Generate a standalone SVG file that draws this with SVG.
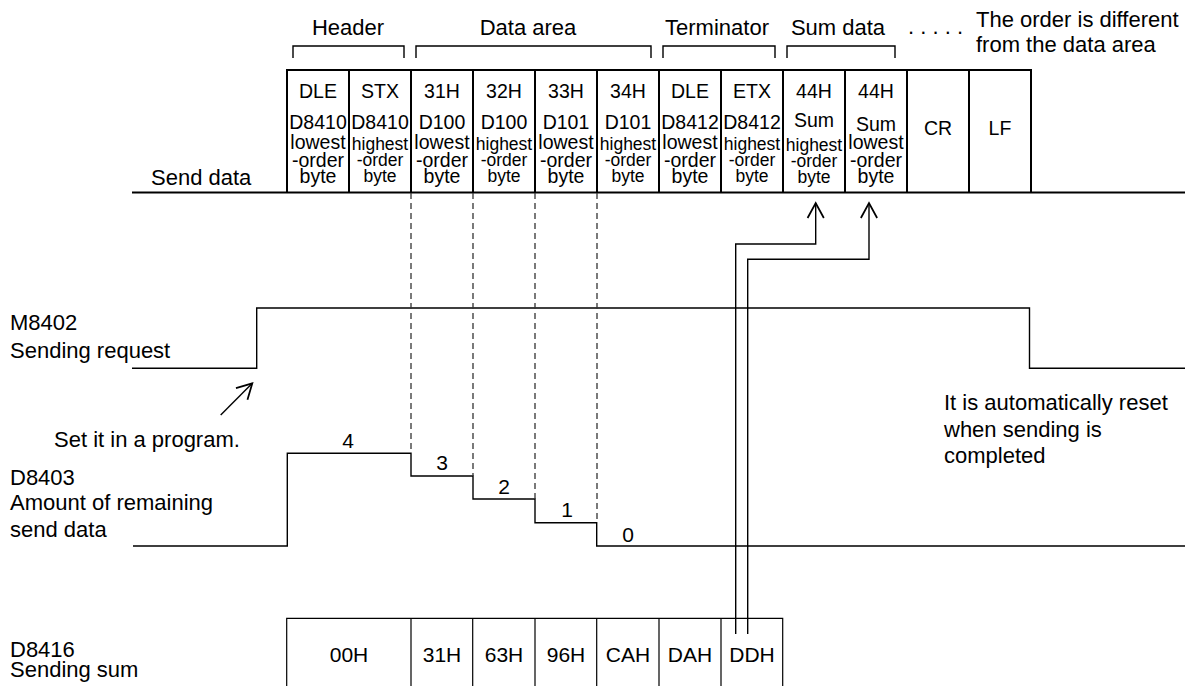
<svg xmlns="http://www.w3.org/2000/svg" width="1185" height="686" viewBox="0 0 1185 686">
<defs>
<style>
text{font-family:"Liberation Sans",Arial,sans-serif;fill:#000}
.t{font-size:22px}
.c{font-size:19.5px;text-anchor:middle}
.h{font-size:17.5px;text-anchor:middle}
.m{text-anchor:middle}
.b{font-size:21px;text-anchor:middle}
.ln{stroke:#000;stroke-width:1.4;fill:none}
.thk{stroke:#000;stroke-width:2;fill:none}
.dash{stroke:#333;stroke-width:1.3;stroke-dasharray:6,4;fill:none}
</style>
<marker id="arr" markerUnits="userSpaceOnUse" markerWidth="20" markerHeight="20" refX="0" refY="0" viewBox="-14 -8 16 16" orient="auto">
<path d="M-12,-6.5 L0,0 L-12,6.5" fill="none" stroke="#000" stroke-width="1.4"/>
</marker>
</defs>

<g id="section-labels">
<text class="t m" x="348" y="35">Header</text>
<text class="t m" x="528" y="35">Data area</text>
<text class="t m" x="717" y="35">Terminator</text>
<text class="t m" x="838" y="35">Sum data</text>
<text class="t" x="908" y="34">. . . . .</text>
<text class="t" x="976" y="27">The order is different</text>
<text class="t" x="976" y="52">from the data area</text>
<path class="ln" d="M293,58 V46 H404 V58 M416,58 V46 H651 V58 M663,58 V46 H775 V58 M787,58 V46 H895 V58"/>
</g>

<g id="send-data">
<text class="t" x="151" y="185">Send data</text>
<path class="thk" d="M132,192.5 H1185"/>
<path class="thk" d="M287,192.5 V70 H1031 V192.5 M349,70 V192.5 M411,70 V192.5 M473,70 V192.5 M535,70 V192.5 M597,70 V192.5 M659,70 V192.5 M721,70 V192.5 M783,70 V192.5 M845,70 V192.5 M907,70 V192.5 M969,70 V192.5"/>
<g class="c">
<text x="318" y="98">DLE</text><text x="380" y="98">STX</text><text x="442" y="98">31H</text><text x="504" y="98">32H</text>
<text x="566" y="98">33H</text><text x="628" y="98">34H</text><text x="690" y="98">DLE</text><text x="752" y="98">ETX</text>
<text x="814" y="98">44H</text><text x="876" y="98">44H</text><text x="938" y="135">CR</text><text x="1000" y="135">LF</text>
<text x="318" y="129">D8410</text><text x="380" y="129">D8410</text><text x="442" y="129">D100</text><text x="504" y="129">D100</text>
<text x="566" y="129">D101</text><text x="628" y="129">D101</text><text x="690" y="129">D8412</text><text x="752" y="129">D8412</text>
<text x="814" y="127">Sum</text><text x="876" y="131">Sum</text>
</g>
<g class="c">
<text x="318" y="149">lowest</text><text x="318" y="166.5">-order</text><text x="318" y="183">byte</text>
<text x="442" y="149">lowest</text><text x="442" y="166.5">-order</text><text x="442" y="183">byte</text>
<text x="566" y="149">lowest</text><text x="566" y="166.5">-order</text><text x="566" y="183">byte</text>
<text x="690" y="149">lowest</text><text x="690" y="166.5">-order</text><text x="690" y="183">byte</text>
<text x="876" y="149">lowest</text><text x="876" y="166.5">-order</text><text x="876" y="183">byte</text>
</g>
<g class="h">
<text x="380" y="150">highest</text><text x="380" y="165.5">-order</text><text x="380" y="182">byte</text>
<text x="504" y="150">highest</text><text x="504" y="165.5">-order</text><text x="504" y="182">byte</text>
<text x="628" y="150">highest</text><text x="628" y="165.5">-order</text><text x="628" y="182">byte</text>
<text x="752" y="150">highest</text><text x="752" y="165.5">-order</text><text x="752" y="182">byte</text>
<text x="814" y="151">highest</text><text x="814" y="166.5">-order</text><text x="814" y="182.5">byte</text>
</g>
</g>

<g id="m8402">
<text class="t" x="10" y="330">M8402</text>
<text class="t" x="10" y="358">Sending request</text>
<path class="ln" d="M132,368.3 H256.7 V308 H1029.5 V368.3 H1185"/>
<text class="t" x="54" y="447">Set it in a program.</text>
<text class="t" x="944" y="410">It is automatically reset</text>
<text class="t" x="944" y="436.7">when sending is</text>
<text class="t" x="944" y="463.3">completed</text>
</g>

<g id="d8403">
<text class="t" x="10" y="485">D8403</text>
<text class="t" x="10" y="510">Amount of remaining</text>
<text class="t" x="10" y="536.7">send data</text>
<path class="ln" d="M133,546 H287.3 V453.3 H411 V476 H473 V499 H535 V522.7 H596.7 V546 H1185"/>
<g class="b">
<text x="348" y="448">4</text>
<text x="442" y="470">3</text>
<text x="504" y="494">2</text>
<text x="567" y="516.7">1</text>
<text x="628" y="541.7">0</text>
</g>
</g>

<g id="d8416">
<text class="t" x="10" y="656.7">D8416</text>
<text class="t" x="10" y="676.7">Sending sum</text>
<path class="ln" style="stroke-width:1.2" d="M286.7,686 V618.3 H782.7 V686 M411,618.3 V686 M472.7,618.3 V686 M535,618.3 V686 M596.7,618.3 V686 M659,618.3 V686 M721,618.3 V686"/>
<g class="b">
<text x="349" y="661.7">00H</text><text x="442" y="661.7">31H</text><text x="504" y="661.7">63H</text><text x="566" y="661.7">96H</text>
<text x="628" y="661.7">CAH</text><text x="690" y="661.7">DAH</text><text x="752" y="661.7">DDH</text>
</g>
</g>

<g id="connectors">
<path class="dash" d="M411,193 V453 M473,193 V476 M535,193 V499 M597,193 V522.7"/>
<path class="ln" d="M735.7,634 V244 H815.7 V203" marker-end="url(#arr)"/>
<path class="ln" d="M747.7,634 V259.3 H869 V203" marker-end="url(#arr)"/>
<path class="ln" d="M220.7,415 L252.3,383.3" marker-end="url(#arr)"/>
</g>
</svg>
